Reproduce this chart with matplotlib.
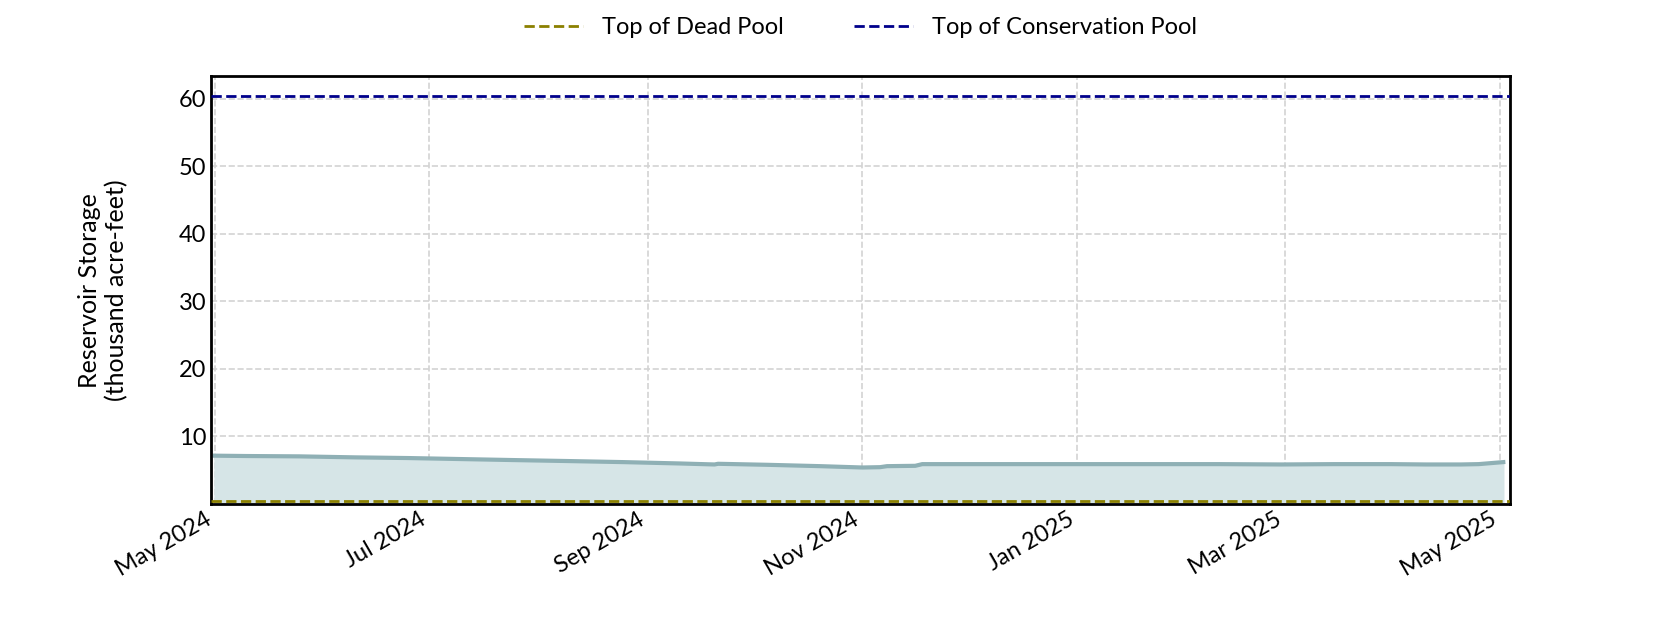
import matplotlib
matplotlib.use("Agg")
import matplotlib.pyplot as plt
import matplotlib.dates as mdates
import numpy as np
import pandas as pd

# storage readings (thousand acre-feet)
dates = pd.to_datetime([
    "2024-05-01", "2024-05-10", "2024-05-25", "2024-06-10", "2024-06-25",
    "2024-07-10", "2024-07-25", "2024-08-10", "2024-08-25", "2024-09-10",
    "2024-09-20", "2024-09-21", "2024-10-05", "2024-10-20", "2024-11-01",
    "2024-11-06", "2024-11-08", "2024-11-16", "2024-11-18", "2024-12-10",
    "2024-12-31", "2025-01-20", "2025-02-10", "2025-02-28", "2025-03-15",
    "2025-03-31", "2025-04-10", "2025-04-20", "2025-04-25", "2025-05-02",
])
storage = [
    7.15, 7.1, 7.05, 6.9, 6.8,
    6.65, 6.5, 6.35, 6.2, 6.0,
    5.85, 5.95, 5.8, 5.6, 5.4,
    5.45, 5.6, 5.65, 5.9, 5.9,
    5.9, 5.9, 5.9, 5.85, 5.9,
    5.9, 5.85, 5.85, 5.9, 6.2,
]
dead_pool = 0.4
conservation_pool = 60.4

plt.rcParams['font.family'] = ['Lato', 'DejaVu Sans']

fig = plt.figure(figsize=(16.8, 6.3), dpi=100)
ax = fig.add_axes([0.1256, 0.2, 0.7734, 0.679])

ax.fill_between(dates, 0, storage, color="#d6e5e7", zorder=1)
ax.plot(dates, storage, color="#8fb0b5", lw=3, zorder=2)

ax.axhline(dead_pool, color="#8b8000", ls="--", lw=2, label="Top of Dead Pool", zorder=3)
ax.axhline(conservation_pool, color="#00008b", ls="--", lw=2, label="Top of Conservation Pool", zorder=3)

ax.set_xlim(pd.Timestamp("2024-04-30"), pd.Timestamp("2025-05-04"))
ax.set_ylim(0, 63.3)
ax.set_yticks([10, 20, 30, 40, 50, 60])
ax.xaxis.set_major_locator(mdates.MonthLocator(bymonth=[1, 3, 5, 7, 9, 11]))
ax.xaxis.set_major_formatter(mdates.DateFormatter("%b %Y"))
plt.setp(ax.get_xticklabels(), rotation=30, ha="right")
ax.tick_params(length=0, labelsize=17)

ax.grid(True, color="#d3d3d3", ls="--", lw=1.2)
ax.set_axisbelow(True)
for s in ax.spines.values():
    s.set_linewidth(2)

ax.set_ylabel("Reservoir Storage\n(thousand acre-feet)", fontsize=18, labelpad=36)

ax.legend(loc="lower center", bbox_to_anchor=(0.5, 1.04), ncol=2, frameon=False,
          fontsize=17, columnspacing=3, handlelength=2.5)

fig.savefig("out.png")
